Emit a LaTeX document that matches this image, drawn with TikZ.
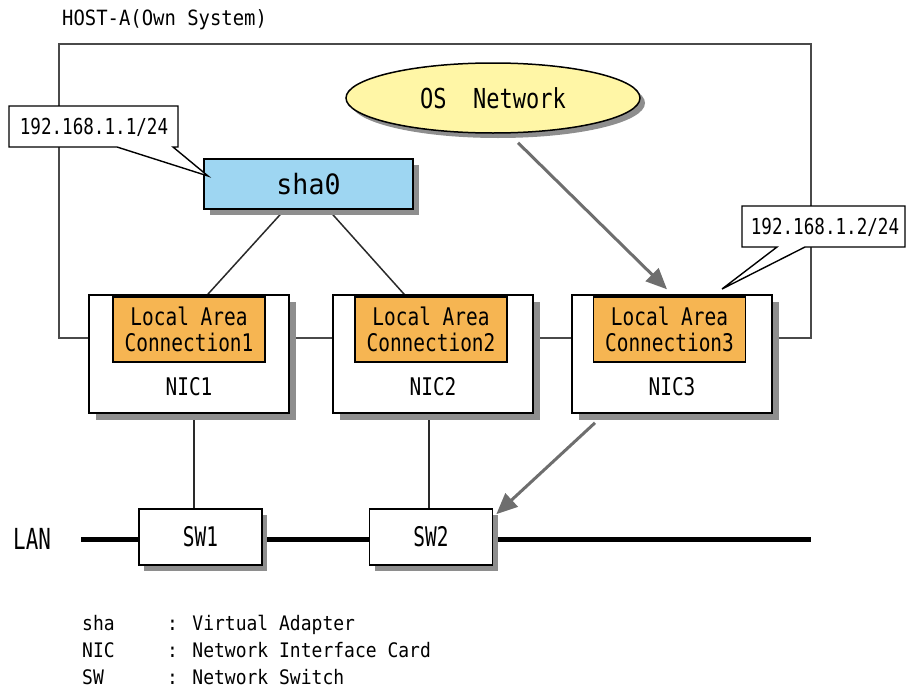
\documentclass[tikz,border=0pt]{standalone}
\usepackage{fontspec}
\newfontfamily\jf[FakeStretch=0.9]{DejaVu Sans Mono}
\newfontfamily\jfc[FakeStretch=0.8]{DejaVu Sans Mono}
\newfontfamily\jfsw[FakeStretch=0.72]{DejaVu Sans Mono}
\newfontfamily\jfw[FakeStretch=0.95]{DejaVu Sans Mono}
\usetikzlibrary{shapes.geometric,arrows.meta,shadows,backgrounds}
\definecolor{shadowc}{HTML}{8E8E8E}
\definecolor{blueF}{HTML}{9ED6F2}
\definecolor{orangeF}{HTML}{F6B552}
\definecolor{yellowF}{HTML}{FFF6A6}
\definecolor{arrowgray}{HTML}{6E6E6E}
\definecolor{hostgray}{HTML}{4A4A4A}
\definecolor{linec}{HTML}{2A2A2A}
\tikzset{
  lbl/.style={inner sep=0pt, text=black},
  hostline/.style={draw=hostgray, line width=1.8pt},
  conn/.style={draw=linec, line width=1.5pt},
  lanline/.style={draw=black, line width=5pt},
  nicbox/.style={draw=black, line width=1.6pt, fill=white, minimum width=200pt, minimum height=118pt, inner sep=0pt,
    drop shadow={shadow xshift=7pt, shadow yshift=-7pt, fill=shadowc, opacity=1}},
  lacbox/.style={draw=black, line width=1.4pt, fill=orangeF, minimum width=152pt, minimum height=65pt, inner sep=0pt,
    align=center, font=\jfc\fontsize{24.3}{25.5}\selectfont},
  niclbl/.style={inner sep=0pt, font=\jfc\fontsize{24.3}{25}\selectfont},
  shabox/.style={draw=black, line width=1.6pt, fill=blueF, minimum width=209pt, minimum height=50pt, inner sep=0pt,
    font=\jfw\fontsize{28}{30}\selectfont,
    drop shadow={shadow xshift=6pt, shadow yshift=-6pt, fill=shadowc, opacity=1}},
  osell/.style={ellipse, draw=black, line width=1.5pt, fill=yellowF, minimum width=294pt, minimum height=70pt, inner sep=0pt,
    font=\jfc\fontsize{27.5}{30}\selectfont,
    drop shadow={shadow xshift=5pt, shadow yshift=-5pt, fill=shadowc, opacity=1}},
  swbox/.style={draw=black, line width=1.6pt, fill=white, minimum width=123pt, minimum height=56pt, inner sep=0pt,
    font=\jfsw\fontsize{27}{30}\selectfont,
    drop shadow={shadow xshift=5pt, shadow yshift=-6pt, fill=shadowc, opacity=1}},
  garrow/.style={draw=arrowgray, line width=3pt, -{Triangle[length=21pt,width=18pt]}},
  callout/.style={draw=black, line width=1.4pt, fill=white, line join=miter},
  iptext/.style={inner sep=0pt, font=\jfc\fontsize{22}{24}\selectfont},
  leg/.style={inner sep=0pt, anchor=base west, font=\jf\fontsize{20}{22}\selectfont},
}
\begin{document}
\begin{tikzpicture}[x=1pt,y=-1pt]
\useasboundingbox (0,0) rectangle (907,688);

\node[lbl, anchor=west, font=\jf\fontsize{21}{24}\selectfont] (hostlbl) at (62,20) {HOST-A(Own System)};

% NIC boxes
\node[nicbox] (nic1) at (189,354) {};
\node[nicbox] (nic2) at (433,354) {};
\node[nicbox] (nic3) at (672,354) {};
\node[lacbox] (lac1) at (189,329.5) {Local Area\\Connection1};
\node[lacbox] (lac2) at (431,329.5) {Local Area\\Connection2};
\node[lacbox] (lac3) at (669.5,329.5) {Local Area\\Connection3};
\node[niclbl] (nic1l) at (189,387) {NIC1};
\node[niclbl] (nic2l) at (433,387) {NIC2};
\node[niclbl] (nic3l) at (672,387) {NIC3};

% sha0 and OS Network
\node[shabox] (sha) at (308.5,184) {sha0};
\node[osell] (os) at (493,98) {OS\ \ Network};

% switches and LAN
\node[swbox] (sw1) at (200.5,537) {SW1};
\node[swbox] (sw2) at (431,537) {SW2};
\node[lbl, anchor=west, font=\jfsw\fontsize{29}{32}\selectfont] (lan) at (13,539) {LAN};
\coordinate (lanS) at (81,539);
\coordinate (lanE) at (811,539);

\begin{scope}[on background layer]
  \draw[hostline] (59,44) rectangle (811,338);
  \draw[lanline] (lanS) -- (lanE);
  \draw[conn] ([xshift=5pt]nic1.south) -- ([xshift=5pt]nic1.south |- sw1.north);
  \draw[conn] ([xshift=-4pt]nic2.south) -- ([xshift=-4pt]nic2.south |- sw2.north);
  \draw[conn] ([xshift=-24pt]sha.south) -- ([xshift=17pt]lac1.north);
  \draw[conn] ([xshift=20pt]sha.south) -- ([xshift=-25pt]lac2.north);
\end{scope}

% arrows
\draw[garrow] ([xshift=25pt,yshift=-9pt]os.south) -- ([xshift=-2.5pt,yshift=7pt]lac3.north);
\draw[garrow] ([xshift=-77pt,yshift=-9pt]nic3.south) -- ([xshift=3pt,yshift=-6pt]sw2.north east);

% callouts
\coordinate (tip1) at (208,176);
\draw[callout] (9,106) -- (178,106) -- (178,147) -- (173,147) -- (tip1) -- (117,147) -- (9,147) -- cycle;
\node[iptext] (ip1) at (94,127) {192.168.1.1/24};
\coordinate (tip2) at (722,289);
\draw[callout] (742,206) -- (905,206) -- (905,247) -- (805,247) -- (tip2) -- (777,247) -- (742,247) -- cycle;
\node[iptext] (ip2) at (825,227) {192.168.1.2/24};

% legend
\node[leg] (k1) at (82,630) {sha};
\node[leg] (v1) at (167,630) {: Virtual Adapter};
\node[leg] (k2) at (82,657) {NIC};
\node[leg] (v2) at (167,657) {: Network Interface Card};
\node[leg] (k3) at (82,684) {SW};
\node[leg] (v3) at (167,684) {: Network Switch};
\end{tikzpicture}
\end{document}
